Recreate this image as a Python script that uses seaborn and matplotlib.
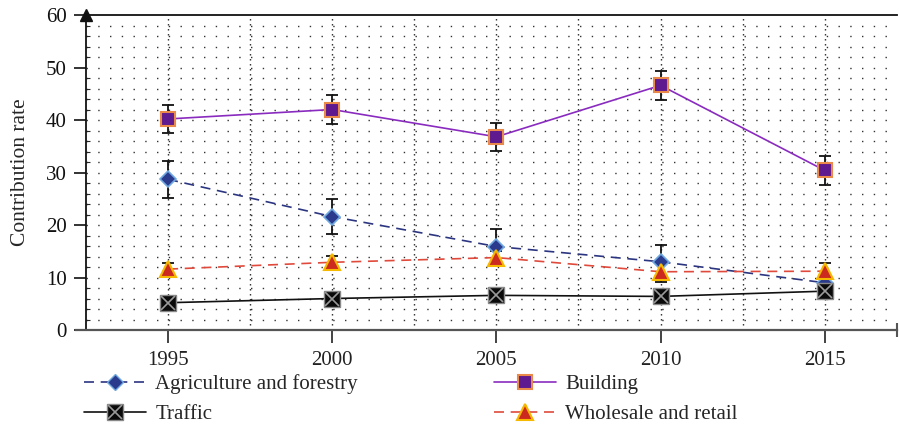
import numpy as np
import pandas as pd
import matplotlib
matplotlib.use("Agg")
import matplotlib.pyplot as plt
import seaborn as sns
from matplotlib.lines import Line2D

# values
years = [1995, 2000, 2005, 2010, 2015]
agriculture = [28.7, 21.6, 15.9, 13.0, 9.0]
agriculture_err = [3.5, 3.4, 3.3, 3.1, 1.0]
building = [40.2, 42.0, 36.8, 46.6, 30.4]
building_err = [2.7, 2.8, 2.7, 2.7, 2.8]
traffic = [5.2, 6.0, 6.6, 6.4, 7.4]
wholesale = [11.6, 12.9, 13.8, 11.1, 11.2]
wholesale_err = [1.2, 1.2, 1.3, 1.9, 1.6]
y_ticks = [0, 10, 20, 30, 40, 50, 60]

df = pd.DataFrame({"year": years, "agri": agriculture, "build": building,
                   "traffic": traffic, "whole": wholesale})

sns.set_theme(style="white")
plt.rcParams['font.family'] = ['Liberation Serif', 'DejaVu Serif']
plt.rcParams['axes.unicode_minus'] = False

fig = plt.figure(figsize=(8.99, 4.34), dpi=100)
ax = fig.add_axes([0.0957, 0.2396, 0.902, 0.7258])

# dotted background grid
for yv in np.arange(2, 60, 2):
    ax.axhline(yv, color='#333333', lw=1.0, linestyle=(0, (1, 7.46)), zorder=0)
for xv in np.arange(1995, 2017, 2.5):
    ax.axvline(xv, color='#222222', lw=1.0, linestyle=(0, (1, 2.6)), zorder=0)

# error bars
for vals, err in [(agriculture, agriculture_err), (building, building_err),
                  (wholesale, wholesale_err)]:
    ax.errorbar(years, vals, yerr=err, fmt='none', ecolor='#111111',
                elinewidth=1.3, capsize=4, capthick=1.3, zorder=2)

sns.lineplot(data=df, x="year", y="agri", ax=ax, color='#2b3580', lw=1.2,
             linestyle=(0, (6, 4)), marker='D', markersize=8,
             markerfacecolor='#2a3a8c', markeredgecolor='#6fa8e0', markeredgewidth=1.2, zorder=4)
sns.lineplot(data=df, x="year", y="build", ax=ax, color='#8a2bbf', lw=1.2,
             marker='s', markersize=10, markerfacecolor='#5e1a8e',
             markeredgecolor='#ea8a4a', markeredgewidth=1.5, zorder=4)
sns.lineplot(data=df, x="year", y="traffic", ax=ax, color='#111111', lw=1.2,
             marker='s', markersize=11, markerfacecolor='#0a0a0a',
             markeredgecolor='#888888', markeredgewidth=1.0, zorder=4)
ax.plot(years, traffic, linestyle='none', marker='x', markersize=10,
        markeredgecolor='#9a9a9a', markeredgewidth=1.2, zorder=5)
sns.lineplot(data=df, x="year", y="whole", ax=ax, color='#e04a3c', lw=1.2,
             linestyle=(0, (6, 4)), marker='^', markersize=11,
             markerfacecolor='#cc2a1e', markeredgecolor='#f7b800', markeredgewidth=1.5, zorder=4)

ax.set_xlim(1992.5, 2017.2)
ax.set_ylim(0, 60)
ax.set_xticks(years)
ax.set_xticklabels([str(y) for y in years])
ax.set_yticks(y_ticks)
ax.set_yticks(np.arange(0, 60, 2), minor=True)
ax.set_xlabel('')
ax.set_ylabel('Contribution rate', fontsize=15.5, labelpad=11)

ax.tick_params(axis='y', which='major', direction='out', length=9, width=1.2,
               labelsize=15, pad=5, colors='#111111', left=True)
ax.tick_params(axis='y', which='minor', direction='in', length=3, width=0.8, left=True)
ax.tick_params(axis='x', which='major', direction='out', length=9, width=1.2,
               labelsize=15, pad=6, colors='#222222', bottom=True)

for s in ['left', 'top']:
    ax.spines[s].set_color('#111111')
    ax.spines[s].set_linewidth(1.3)
ax.spines['bottom'].set_color('#555555')
ax.spines['bottom'].set_linewidth(1.6)
ax.spines['right'].set_visible(False)
ax.spines['bottom'].set_bounds(1992.2, 2017.2)

# axis end markers
ax.plot([0], [1.0], marker='^', markersize=9, color='#111111',
        transform=ax.transAxes, clip_on=False, zorder=6)
ax.plot([1.0], [0], marker='|', markersize=10, markeredgewidth=1.5, color='#555555',
        transform=ax.transAxes, clip_on=False, zorder=6)

h_agri = Line2D([], [], color='#2b3580', lw=1.2, linestyle=(0, (6, 4)), marker='D',
                markersize=8, markerfacecolor='#2a3a8c', markeredgecolor='#6fa8e0')
h_build = Line2D([], [], color='#8a2bbf', lw=1.2, marker='s', markersize=10,
                 markerfacecolor='#5e1a8e', markeredgecolor='#ea8a4a', markeredgewidth=1.5)
h_tr1 = Line2D([], [], color='#111111', lw=1.2, marker='s', markersize=11,
               markerfacecolor='#0a0a0a', markeredgecolor='#888888')
h_tr2 = Line2D([], [], linestyle='none', marker='x', markersize=10,
               markeredgecolor='#9a9a9a', markeredgewidth=1.2)
h_whole = Line2D([], [], color='#e04a3c', lw=1.2, linestyle=(0, (6, 4)), marker='^',
                 markersize=11, markerfacecolor='#cc2a1e', markeredgecolor='#f7b800',
                 markeredgewidth=1.5)

fig.legend([h_agri, (h_tr1, h_tr2), h_build, h_whole],
           ['Agriculture and forestry', 'Traffic', 'Building', 'Wholesale and retail'],
           ncol=2, loc='upper left', bbox_to_anchor=(0.093, 0.137), frameon=False,
           fontsize=15, handlelength=3.0, handletextpad=0.45, columnspacing=6.5,
           labelspacing=0.5, borderpad=0, borderaxespad=0)

fig.savefig('out.png', dpi=100)
